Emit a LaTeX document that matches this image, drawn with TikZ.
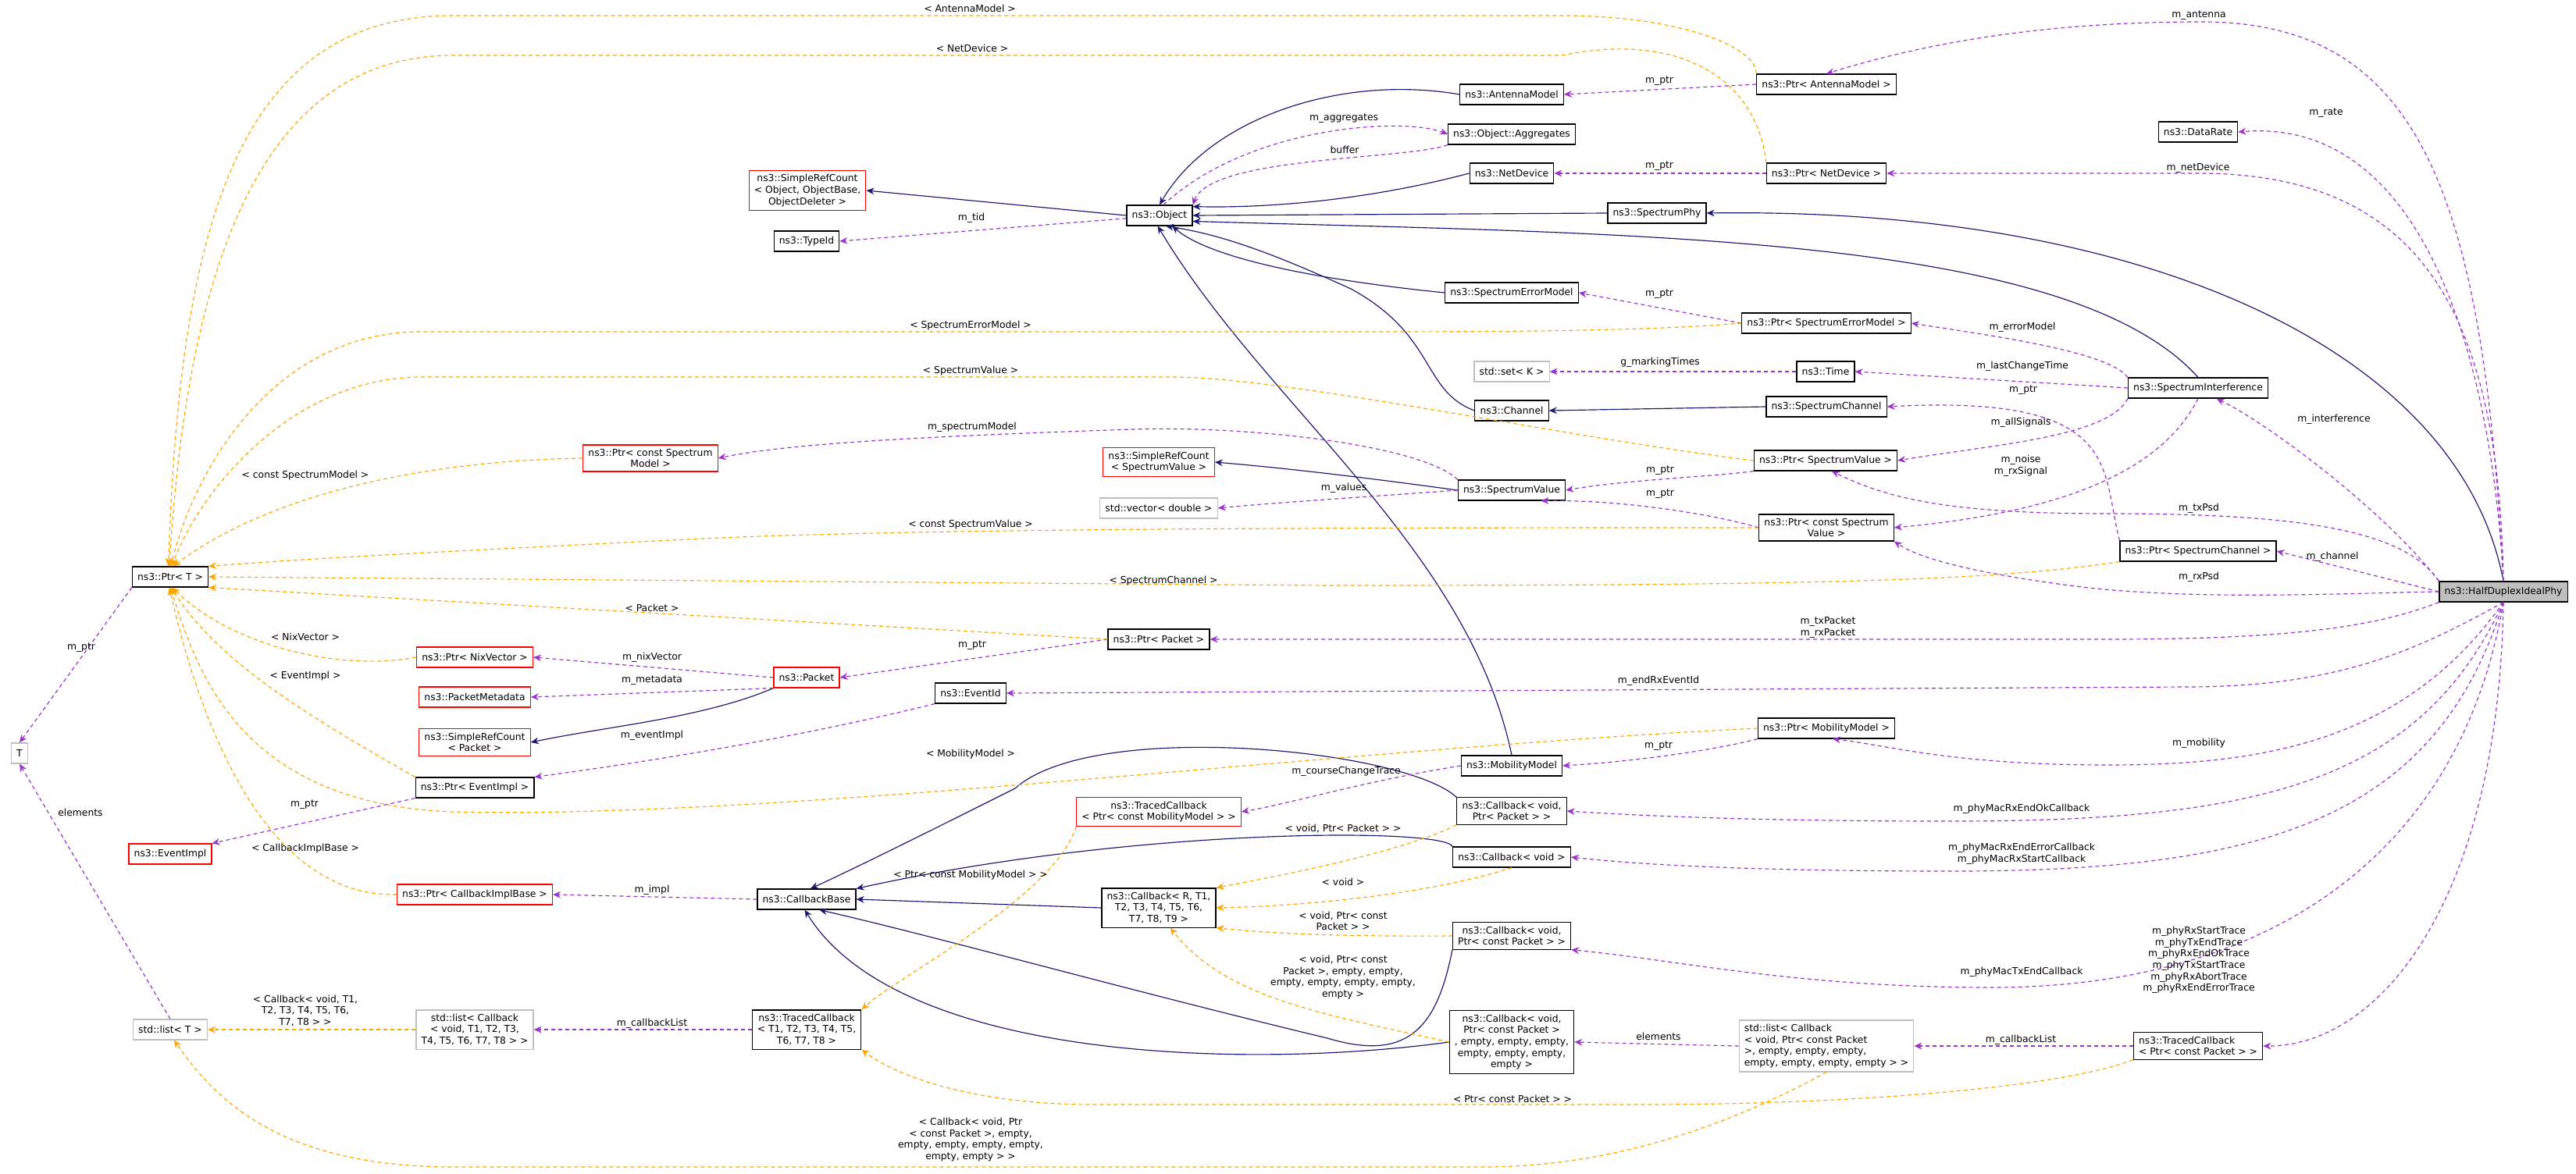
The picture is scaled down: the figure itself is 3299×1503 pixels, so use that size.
\documentclass[tikz,border=0pt]{standalone}
\usepackage{fontspec}
\setmainfont{DejaVu Sans}
\usetikzlibrary{arrows.meta}
\definecolor{navy}{HTML}{191970}
\definecolor{purp}{HTML}{9A32CD}
\definecolor{orng}{HTML}{FFA500}
\definecolor{gbox}{HTML}{BFBFBF}
\tikzset{
 box/.style={draw=black,line width=0.35pt,fill=white,inner xsep=2pt,inner ysep=1.5pt,minimum height=7.8pt,align=center,font=\fontsize{3.7}{4.4}\selectfont},
 redbox/.style={box,draw=red},
 graybox/.style={box,draw=gbox},
 lbl/.style={font=\fontsize{3.7}{4.4}\selectfont,align=center,inner sep=0pt},
 inh/.style={draw=navy,line width=0.35pt,-{Stealth[length=3pt,width=2.6pt]}},
 use/.style={draw=purp,line width=0.35pt,dashed,dash pattern=on 1.5pt off 1.2pt,-{Stealth[length=3pt,width=2.6pt]}},
 tmpl/.style={draw=orng,line width=0.35pt,dashed,dash pattern=on 1.5pt off 1.2pt,-{Stealth[length=3pt,width=2.6pt]}},
}
\begin{document}
\begin{tikzpicture}[x=0.3pt,y=-0.3pt]
\useasboundingbox (0,0) rectangle (3299,1503);
% nodes
\node[redbox] (srcObj) at (1034,244) {ns3::SimpleRefCount\\< Object, ObjectBase,\\ ObjectDeleter >};
\node[box] (tid) at (1033,309) {ns3::TypeId};
\node[box] (obj) at (1485,276) {ns3::Object};
\node[redbox] (pcsm) at (833,587) {ns3::Ptr< const Spectrum\\ Model >};
\node[redbox] (srcSV) at (1484,592) {ns3::SimpleRefCount\\< SpectrumValue >};
\node[graybox] (vec) at (1484,651) {std::vector< double >};
\node[box] (ptrT) at (218,739) {ns3::Ptr< T >};
\node[box] (pAnt) at (2339,108) {ns3::Ptr< AntennaModel >};
\node[box] (am) at (1936,121) {ns3::AntennaModel};
\node[box] (agg) at (1936,172) {ns3::Object::Aggregates};
\node[box] (nd) at (1936,222) {ns3::NetDevice};
\node[box] (pND) at (2339,222) {ns3::Ptr< NetDevice >};
\node[box] (dr) at (2815,169) {ns3::DataRate};
\node[box] (sphy) at (2122,273) {ns3::SpectrumPhy};
\node[box] (sem) at (1936,375) {ns3::SpectrumErrorModel};
\node[box] (psem) at (2339,414) {ns3::Ptr< SpectrumErrorModel >};
\node[graybox] (setK) at (1936,476) {std::set< K >};
\node[box] (time) at (2338,476) {ns3::Time};
\node[box] (si) at (2815,497) {ns3::SpectrumInterference};
\node[box] (ch) at (1936,526) {ns3::Channel};
\node[box] (sc) at (2339,521) {ns3::SpectrumChannel};
\node[box] (psv) at (2338,590) {ns3::Ptr< SpectrumValue >};
\node[box] (sv) at (1936,628) {ns3::SpectrumValue};
\node[box] (pcsv) at (2339,676) {ns3::Ptr< const Spectrum\\ Value >};
\node[box] (psc) at (2815,706) {ns3::Ptr< SpectrumChannel >};
\node[box,fill=gbox] (hd) at (3206,758) {ns3::HalfDuplexIdealPhy};
\node[redbox] (pnix) at (608,842) {ns3::Ptr< NixVector >};
\node[redbox] (pkt) at (1033,868) {ns3::Packet};
\node[redbox] (pmd) at (608,893) {ns3::PacketMetadata};
\node[redbox] (srcP) at (608,951) {ns3::SimpleRefCount\\< Packet >};
\node[box] (pP) at (1484,819) {ns3::Ptr< Packet >};
\node[box] (eid) at (1243,888) {ns3::EventId};
\node[box] (pEI) at (608,1009) {ns3::Ptr< EventImpl >};
\node[graybox] (T) at (25,965) {T};
\node[redbox] (ei) at (218,1094) {ns3::EventImpl};
\node[redbox] (tcMM) at (1484,1040) {ns3::TracedCallback\\< Ptr< const MobilityModel > >};
\node[redbox] (pCIB) at (608,1146) {ns3::Ptr< CallbackImplBase >};
\node[box] (cb) at (1033,1152) {ns3::CallbackBase};
\node[box] (cbR) at (1484,1163) {ns3::Callback< R, T1,\\ T2, T3, T4, T5, T6,\\ T7, T8, T9 >};
\node[graybox] (listT) at (218,1319) {std::list< T >};
\node[graybox] (listCB) at (608,1319) {std::list< Callback\\< void, T1, T2, T3,\\ T4, T5, T6, T7, T8 > >};
\node[box] (tc8) at (1033,1319) {ns3::TracedCallback\\< T1, T2, T3, T4, T5,\\ T6, T7, T8 >};
\node[box] (pMM) at (2339,933) {ns3::Ptr< MobilityModel >};
\node[box] (mm) at (1936,981) {ns3::MobilityModel};
\node[box] (cbPP) at (1936,1039) {ns3::Callback< void,\\ Ptr< Packet > >};
\node[box] (cbV) at (1936,1098) {ns3::Callback< void >};
\node[box] (cbCP) at (1936,1199) {ns3::Callback< void,\\ Ptr< const Packet > >};
\node[box] (cbE) at (1936,1335) {ns3::Callback< void,\\ Ptr< const Packet >\\ , empty, empty, empty,\\ empty, empty, empty,\\ empty >};
\node[graybox,align=left] (listP) at (2339,1340) {std::list< Callback\\< void, Ptr< const Packet\\ >, empty, empty, empty,\\ empty, empty, empty, empty > >};
\node[box,align=left] (tcP) at (2815,1340) {ns3::TracedCallback\\< Ptr< const Packet > >};

% inheritance
\draw[inh] (obj.west) -- (srcObj.east);
\draw[inh] (am.west) .. controls (1720,95) and (1550,150) .. (obj.north);
\draw[inh] (nd.west) .. controls (1700,270) and (1550,265) .. (obj.15);
\draw[inh] (sphy.west) -- (obj.east);
\draw[inh] (sem.west) .. controls (1750,365) and (1560,340) .. (obj.-40);
\draw[inh] (ch.west) .. controls (1820,500) and (1840,430) .. (1730,370) .. controls (1620,320) and (1560,300) .. (obj.-60);
\draw[inh] (si.north) .. controls (2650,300) and (2100,300) .. (obj.-10);
\draw[inh] (mm.north) .. controls (1880,700) and (1620,520) .. (obj.-100);
\draw[inh] (sc.west) -- (ch.east);
\draw[inh] (sv.west) .. controls (1750,612) and (1650,600) .. (srcSV.east);
\draw[inh] (pkt.south west) .. controls (900,920) and (780,930) .. (srcP.east);
\draw[inh] (hd.north) .. controls (3150,450) and (2750,265) .. (sphy.east);
\draw[inh] (cbPP.north west) .. controls (1800,960) and (1400,920) .. (1300,1010) .. controls (1200,1060) and (1100,1110) .. (cb.70);
\draw[inh] (cbV.north west) .. controls (1850,1060) and (1450,1060) .. (cb.north east);
\draw[inh] (cbR.west) -- (cb.east);
\draw[inh] (cbCP.south west) .. controls (1840,1320) and (1800,1360) .. (1700,1330) .. controls (1450,1270) and (1200,1200) .. (cb.-40);
\draw[inh] (cbE.west) .. controls (1600,1370) and (1150,1360) .. (cb.-100);

% usage
\draw[use] (obj.185) -- (tid.east); \node[lbl] at (1244,279) {m\_tid};
\draw[use] (obj.70) .. controls (1600,160) and (1800,150) .. (agg.west); \node[lbl] at (1721,152) {m\_aggregates};
\draw[use] (agg.south west) .. controls (1800,205) and (1550,200) .. (obj.north east); \node[lbl] at (1722,192) {buffer};
\draw[use] (pAnt.west) -- (am.east); \node[lbl] at (2125,104) {m\_ptr};
\draw[use] (pND.west) -- (nd.east); \node[lbl] at (2125,213) {m\_ptr};
\draw[use] (psem.west) -- (sem.east); \node[lbl] at (2125,377) {m\_ptr};
\draw[use] (time.west) -- (setK.east); \node[lbl] at (2126,464) {g\_markingTimes};
\draw[use] (si.north west) .. controls (2700,450) and (2550,430) .. (psem.east); \node[lbl] at (2590,419) {m\_errorModel};
\draw[use] (si.west) -- (time.east); \node[lbl] at (2590,469) {m\_lastChangeTime};
\draw[use] (psc.north west) .. controls (2690,600) and (2720,505) .. (sc.east); \node[lbl] at (2591,500) {m\_ptr};
\draw[use] (si.south west) .. controls (2700,560) and (2550,570) .. (psv.east); \node[lbl] at (2588,541) {m\_allSignals};
\draw[use] (si.south) .. controls (2760,620) and (2600,660) .. (pcsv.east); \node[lbl] at (2588,597) {m\_noise\\m\_rxSignal};
\draw[use] (psv.south west) .. controls (2200,610) and (2080,615) .. (sv.east); \node[lbl] at (2126,603) {m\_ptr};
\draw[use] (pcsv.west) .. controls (2200,660) and (2080,640) .. (sv.-20); \node[lbl] at (2126,633) {m\_ptr};
\draw[use] (sv.north west) .. controls (1820,570) and (1600,545) .. (1450,550) .. controls (1150,560) and (1000,570) .. (pcsm.east); \node[lbl] at (1245,547) {m\_spectrumModel};
\draw[use] (sv.west) .. controls (1700,640) and (1620,645) .. (vec.east); \node[lbl] at (1721,625) {m\_values};
\draw[use] (hd.north) .. controls (3180,250) and (3100,28) .. (2820,28) .. controls (2600,28) and (2450,60) .. (pAnt.north); \node[lbl] at (2816,20) {m\_antenna};
\draw[use] (hd.north) .. controls (3190,450) and (3100,150) .. (dr.east); \node[lbl] at (2979,145) {m\_rate};
\draw[use] (hd.north) .. controls (3200,400) and (3100,222) .. (2815,222) -- (pND.east); \node[lbl] at (2815,215) {m\_netDevice};
\draw[use] (hd.north west) .. controls (3050,650) and (2900,540) .. (si.-30); \node[lbl] at (2989,537) {m\_interference};
\draw[use] (hd.north west) .. controls (3080,680) and (2950,658) .. (2700,658) .. controls (2500,658) and (2420,640) .. (psv.-60); \node[lbl] at (2816,651) {m\_txPsd};
\draw[use] (hd.west) -- (psc.east); \node[lbl] at (2987,713) {m\_channel};
\draw[use] (hd.west) .. controls (3000,760) and (2800,770) .. (2650,750) .. controls (2500,730) and (2450,710) .. (pcsv.south east); \node[lbl] at (2816,739) {m\_rxPsd};
\draw[use] (hd.south west) .. controls (3050,800) and (2950,819) .. (2700,819) -- (pP.east); \node[lbl] at (2341,804) {m\_txPacket\\m\_rxPacket};
\draw[use] (hd.south) .. controls (3100,830) and (3000,880) .. (2800,880) -- (eid.east); \node[lbl] at (2124,872) {m\_endRxEventId};
\draw[use] (hd.south) .. controls (3080,950) and (2900,980) .. (2700,980) .. controls (2500,980) and (2420,955) .. (pMM.-60); \node[lbl] at (2816,952) {m\_mobility};
\draw[use] (hd.south) .. controls (3100,1000) and (2900,1052) .. (2500,1052) .. controls (2250,1052) and (2100,1045) .. (cbPP.east); \node[lbl] at (2589,1036) {m\_phyMacRxEndOkCallback};
\draw[use] (hd.south) .. controls (3120,1050) and (2900,1116) .. (2500,1116) .. controls (2250,1116) and (2100,1108) .. (cbV.east); \node[lbl] at (2589,1094) {m\_phyMacRxEndErrorCallback\\m\_phyMacRxStartCallback};
\draw[use] (hd.south) .. controls (3150,1100) and (2900,1265) .. (2550,1265) .. controls (2300,1265) and (2150,1230) .. (cbCP.south east); \node[lbl] at (2589,1245) {m\_phyMacTxEndCallback};
\draw[use] (hd.south) .. controls (3200,1150) and (3050,1340) .. (tcP.east); \node[lbl] at (2816,1230) {m\_phyRxStartTrace\\m\_phyTxEndTrace\\m\_phyRxEndOkTrace\\m\_phyTxStartTrace\\m\_phyRxAbortTrace\\m\_phyRxEndErrorTrace};
\draw[use] (pP.west) -- (pkt.east); \node[lbl] at (1245,827) {m\_ptr};
\draw[use] (pkt.west) -- (pnix.east); \node[lbl] at (835,842) {m\_nixVector};
\draw[use] (pkt.south west) -- (pmd.east); \node[lbl] at (835,871) {m\_metadata};
\draw[use] (eid.south west) .. controls (1000,950) and (800,980) .. (pEI.north east); \node[lbl] at (835,942) {m\_eventImpl};
\draw[use] (pEI.south west) -- (ei.north east); \node[lbl] at (390,1031) {m\_ptr};
\draw[use] (ptrT.south west) -- (T.north); \node[lbl] at (104,830) {m\_ptr};
\draw[use] (listT.north) -- (T.south); \node[lbl] at (103,1041) {elements};
\draw[use] (pMM.south west) .. controls (2200,960) and (2100,975) .. (mm.east); \node[lbl] at (2124,956) {m\_ptr};
\draw[use] (mm.west) .. controls (1750,1000) and (1650,1030) .. (tcMM.east); \node[lbl] at (1724,988) {m\_courseChangeTrace};
\draw[use] (cb.west) -- (pCIB.east); \node[lbl] at (835,1140) {m\_impl};
\draw[use] (tc8.west) -- (listCB.east); \node[lbl] at (835,1311) {m\_callbackList};
\draw[use] (listP.west) -- (cbE.east); \node[lbl] at (2124,1328) {elements};
\draw[use] (tcP.west) -- (listP.east); \node[lbl] at (2588,1332) {m\_callbackList};

% template
\draw[tmpl] (pAnt.north west) .. controls (2250,60) and (2150,20) .. (2000,20) -- (580,20) .. controls (300,20) and (230,300) .. (ptrT.100); \node[lbl] at (1242,11) {< AntennaModel >};
\draw[tmpl] (pND.north west) .. controls (2250,100) and (2150,40) .. (2000,71) -- (580,71) .. controls (330,71) and (240,350) .. (ptrT.95); \node[lbl] at (1245,62) {< NetDevice >};
\draw[tmpl] (psem.west) .. controls (2100,425) and (1900,425) .. (1700,425) -- (540,425) .. controls (350,425) and (250,600) .. (ptrT.88); \node[lbl] at (1243,417) {< SpectrumErrorModel >};
\draw[tmpl] (psv.west) .. controls (2000,560) and (1650,483) .. (1500,483) -- (540,483) .. controls (380,483) and (260,620) .. (ptrT.82); \node[lbl] at (1243,475) {< SpectrumValue >};
\draw[tmpl] (pcsm.west) .. controls (550,590) and (350,630) .. (ptrT.75); \node[lbl] at (391,609) {< const SpectrumModel >};
\draw[tmpl] (pcsv.west) .. controls (1800,676) and (1200,676) .. (900,690) .. controls (600,705) and (400,715) .. (ptrT.north east); \node[lbl] at (1243,672) {< const SpectrumValue >};
\draw[tmpl] (psc.south west) .. controls (2550,745) and (2300,750) .. (1700,750) -- (ptrT.east); \node[lbl] at (1490,744) {< SpectrumChannel >};
\draw[tmpl] (pP.west) -- (ptrT.south east); \node[lbl] at (835,779) {< Packet >};
\draw[tmpl] (pnix.west) .. controls (440,860) and (300,830) .. (ptrT.-80); \node[lbl] at (391,816) {< NixVector >};
\draw[tmpl] (pEI.north west) .. controls (400,920) and (280,850) .. (ptrT.-85); \node[lbl] at (391,866) {< EventImpl >};
\draw[tmpl] (pMM.west) .. controls (1700,960) and (1000,1050) .. (580,1040) .. controls (300,1030) and (250,850) .. (ptrT.-90); \node[lbl] at (1243,966) {< MobilityModel >};
\draw[tmpl] (pCIB.west) .. controls (330,1150) and (250,900) .. (ptrT.-95); \node[lbl] at (391,1087) {< CallbackImplBase >};
\draw[tmpl] (listCB.west) -- (listT.east); \node[lbl] at (391,1295) {< Callback< void, T1,\\ T2, T3, T4, T5, T6,\\ T7, T8 > >};
\draw[tmpl] (listP.south) .. controls (2200,1450) and (2050,1495) .. (1900,1495) -- (580,1495) .. controls (350,1495) and (270,1400) .. (listT.-70); \node[lbl] at (1243,1460) {< Callback< void, Ptr\\< const Packet >, empty,\\ empty, empty, empty, empty,\\ empty, empty > >};
\draw[tmpl] (tcMM.south west) .. controls (1350,1150) and (1150,1250) .. (tc8.north east); \node[lbl] at (1243,1121) {< Ptr< const MobilityModel > >};
\draw[tmpl] (tcP.south west) .. controls (2650,1390) and (2400,1415) .. (2100,1415) -- (1400,1415) .. controls (1250,1415) and (1150,1380) .. (tc8.south east); \node[lbl] at (1937,1408) {< Ptr< const Packet > >};
\draw[tmpl] (cbPP.south west) .. controls (1800,1090) and (1650,1120) .. (cbR.north east); \node[lbl] at (1720,1062) {< void, Ptr< Packet > >};
\draw[tmpl] (cbV.south) .. controls (1850,1140) and (1700,1160) .. (cbR.east); \node[lbl] at (1720,1130) {< void >};
\draw[tmpl] (cbCP.west) .. controls (1700,1200) and (1620,1195) .. (cbR.south east); \node[lbl] at (1720,1180) {< void, Ptr< const\\ Packet > >};
\draw[tmpl] (cbE.west) .. controls (1700,1300) and (1570,1280) .. (cbR.-60); \node[lbl] at (1720,1252) {< void, Ptr< const\\ Packet >, empty, empty,\\ empty, empty, empty, empty,\\ empty >};
\end{tikzpicture}
\end{document}
